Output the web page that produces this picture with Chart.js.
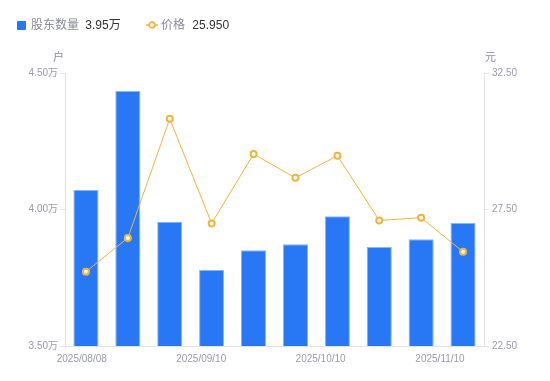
<!DOCTYPE html>
<html>
<head>
<meta charset="utf-8">
<script src="https://cdn.jsdelivr.net/npm/chart.js@4.4.1/dist/chart.umd.min.js"></script>
<style>
  html, body { margin: 0; padding: 0; background: #fff; }
  #wrap { position: relative; width: 550px; height: 381px; font-family: "Liberation Sans", "Noto Sans CJK SC", sans-serif; }
  #chart { position: absolute; left: 0; top: 0; }
  .lg { position: absolute; top: 17px; font-size: 12px; line-height: 16px; white-space: nowrap; }
  .name { color: #8c8c9a; }
  .val { color: #333; }
  .unit { position: absolute; top: 49px; font-size: 11px; color: #8c8c9a; line-height: 16px; }
</style>
</head>
<body>
<div id="wrap">
  <canvas id="chart" width="550" height="381"></canvas>
  <div class="lg" style="left:17px;">
    <span style="display:inline-block;width:9px;height:9px;background:#2878f5;border-radius:1px;vertical-align:-1px;margin-right:5px;"></span><span class="name">股东数量</span>
    <span class="val" id="holdersVal" style="margin-left:3px;"></span>
  </div>
  <div class="lg" style="left:146px;">
    <svg width="12" height="10" style="vertical-align:-1px;margin-right:3px;"><line x1="0" y1="5" x2="12" y2="5" stroke="#f7b23b" stroke-width="1.5"/><circle cx="6" cy="5" r="2.8" fill="#fff" stroke="#f7b23b" stroke-width="1.8"/></svg><span class="name">价格</span>
    <span class="val" id="priceVal" style="margin-left:4px;"></span>
  </div>
  <div class="unit" style="left:53px;">户</div>
  <div class="unit" style="left:485px;">元</div>
</div>
<script>
const dateLabels = ["2025/08/08", "2025/08/20", "2025/08/29", "2025/09/10", "2025/09/19",
  "2025/09/30", "2025/10/10", "2025/10/20", "2025/10/31", "2025/11/10"];
const holders = [4.071, 4.434, 3.955, 3.778, 3.851, 3.873, 3.975, 3.863, 3.891, 3.951]; // 万户
const prices = [25.22, 26.46, 30.82, 26.99, 29.53, 28.66, 29.47, 27.10, 27.20, 25.95];
const shownIdx = [0, 3, 6, 9];

document.getElementById("holdersVal").textContent = holders[holders.length - 1].toFixed(2) + "万";
document.getElementById("priceVal").textContent = prices[prices.length - 1].toFixed(3);

const axisColor = "#e3e3e8";
const tickColor = "#9c9cac";
const tickFont = { family: "'Liberation Sans', 'Noto Sans CJK SC', sans-serif", size: 10 };

new Chart(document.getElementById("chart").getContext("2d"), {
  type: "bar",
  data: {
    labels: dateLabels,
    datasets: [
      {
        type: "line",
        label: "价格",
        data: prices,
        yAxisID: "yPrice",
        borderColor: "#f7b23b",
        borderWidth: 1,
        pointRadius: 3,
        pointBorderWidth: 2,
        pointBackgroundColor: "#fff",
        pointBorderColor: "#f7b23b",
        tension: 0,
        order: 0
      },
      {
        label: "股东数量",
        data: holders,
        yAxisID: "yHold",
        backgroundColor: "#2878f5",
        borderColor: "#86b6fb",
        borderWidth: 1,
        categoryPercentage: 1,
        barPercentage: 0.6,
        order: 1
      }
    ]
  },
  options: {
    responsive: false,
    animation: false,
    layout: { padding: { top: 73, left: 0, right: 0, bottom: 0 } },
    plugins: { legend: { display: false }, tooltip: { enabled: false } },
    scales: {
      x: {
        position: "bottom",
        offset: true,
        grid: { display: false },
        border: { color: axisColor },
        ticks: { display: false },
        afterFit: (s) => { s.height = 0; }
      },
      // date labels sit on their own axis, spread the way the original spaces them
      xl: {
        type: "linear",
        position: "bottom",
        bounds: "data",
        offset: false,
        min: -0.5,
        max: 9.5,
        grid: { display: false, drawTicks: false },
        border: { display: false },
        afterBuildTicks: (s) => { s.ticks = shownIdx.map(i => ({ value: i * 0.95 - 0.1 })); },
        ticks: {
          autoSkip: false,
          maxRotation: 0,
          padding: 7,
          color: tickColor,
          font: tickFont,
          callback: (v, i) => dateLabels[shownIdx[i]]
        },
        afterFit: (s) => { s.height = 35; }
      },
      yHold: {
        position: "left",
        min: 3.5,
        max: 4.5,
        grid: { drawOnChartArea: false, drawTicks: true, tickLength: 5, color: axisColor },
        border: { color: axisColor },
        ticks: {
          stepSize: 0.5,
          padding: 2,
          color: tickColor,
          font: tickFont,
          callback: (v) => v.toFixed(2) + "万"
        },
        afterFit: (s) => { s.width = 65; }
      },
      yPrice: {
        position: "right",
        min: 22.5,
        max: 32.5,
        grid: { drawOnChartArea: false, drawTicks: true, tickLength: 5, color: axisColor },
        border: { color: axisColor },
        ticks: {
          stepSize: 5,
          padding: 3,
          color: tickColor,
          font: tickFont,
          callback: (v) => v.toFixed(2)
        },
        afterFit: (s) => { s.width = 66; }
      }
    }
  }
});
</script>
</body>
</html>
